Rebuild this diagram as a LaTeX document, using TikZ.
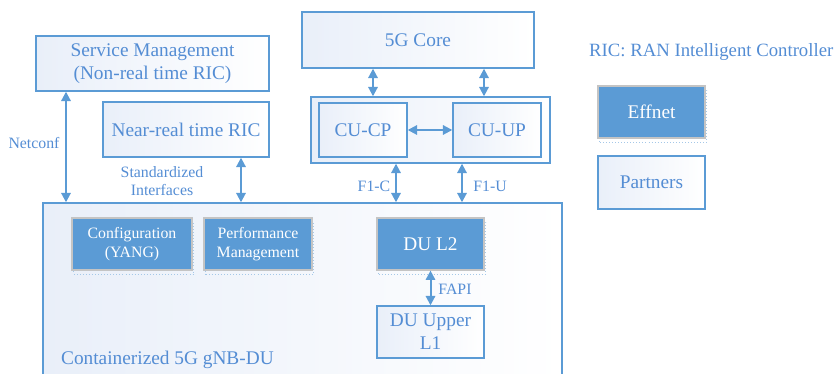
\documentclass[tikz,border=0pt]{standalone}
\usepackage{fontspec}
\setmainfont{Liberation Serif}
\usetikzlibrary{positioning,arrows.meta}
\definecolor{ricBlue}{RGB}{91,155,213}
\definecolor{ricText}{RGB}{84,141,212}
\definecolor{ricFill}{RGB}{233,239,249}
\definecolor{ricGray}{RGB}{196,196,196}

\begin{document}
\begin{tikzpicture}[x=0.03cm,y=-0.03cm,
    lightbox/.style={draw=ricBlue,line width=1.2pt,left color=ricFill,right color=white,
                     text=ricText,font=\fontsize{16.5}{19.5}\selectfont,align=center,inner sep=0pt},
    darkbox/.style={draw=ricGray,line width=1pt,fill=ricBlue,text=white,
                    font=\fontsize{16.5}{19.5}\selectfont,align=center,inner sep=0pt,
                    preaction={draw=ricBlue!55,dotted,line width=0.6pt,
                               transform canvas={shift={(1.5pt,-3.5pt)}}}},
    small/.style={font=\fontsize{13.5}{16}\selectfont},
    link/.style={draw=ricBlue,line width=1.7pt,
                 {Triangle[length=8pt,width=8pt]}-{Triangle[length=8pt,width=8pt]}},
    tag/.style={text=ricText,font=\fontsize{13.5}{16}\selectfont,align=center}
  ]
  \clip (0,0) rectangle (837,374);

  % management side
  \node[lightbox,minimum width=6.99cm,minimum height=1.65cm] (svc) at (152.5,63.5)
       {Service Management\\(Non-real time RIC)};
  \node[lightbox,minimum width=4.98cm,minimum height=1.65cm] (nrt) at (186,129.5)
       {Near-real time RIC};

  % core and CU
  \node[lightbox,minimum width=6.96cm,minimum height=1.68cm] (core) at (418,40) {5G Core};
  \node[lightbox,minimum width=7.17cm,minimum height=1.98cm] (cu) at (430.5,130) {};
  \node[lightbox,minimum width=2.64cm,minimum height=1.62cm] (cucp) at (363,130) {CU-CP};
  \node[lightbox,minimum width=2.64cm,minimum height=1.62cm] (cuup) at (497,130) {CU-UP};

  % DU container
  \node[lightbox,minimum width=15.57cm,minimum height=5.46cm] (du) at (302.5,294) {};
  \node[tag,font=\fontsize{16.5}{19.5}\selectfont,anchor=west] (dulabel) at (57,360)
       {Containerized 5G gNB-DU};
  \node[darkbox,small,minimum width=3.6cm,minimum height=1.56cm] (conf) at (132,244)
       {Configuration\\(YANG)};
  \node[darkbox,small,minimum width=3.24cm,minimum height=1.56cm] (perf) at (258,244)
       {Performance\\Management};
  \node[darkbox,minimum width=3.21cm,minimum height=1.56cm] (dul2) at (430.5,244) {DU L2};
  \node[lightbox,minimum width=3.21cm,minimum height=1.56cm] (dul1) at (430.5,332)
       {DU Upper\\L1};

  % legend
  \node[tag,font=\fontsize{16}{19}\selectfont,anchor=west] (legend) at (585,52)
       {RIC: RAN Intelligent Controller};
  \node[darkbox,minimum width=3.21cm,minimum height=1.56cm] (effnet) at (651.5,112) {Effnet};
  \node[lightbox,minimum width=3.21cm,minimum height=1.59cm] (partners) at (651.5,182.5) {Partners};

  % interfaces
  \coordinate (netx) at (66,0);
  \coordinate (stdx) at (241,0);
  \coordinate (cpx) at (373,0);
  \coordinate (upx) at (484,0);
  \coordinate (f1cx) at (396,0);
  \coordinate (f1ux) at (462,0);

  \draw[link] (svc.south -| netx) -- (du.north -| netx);
  \draw[link] (nrt.south -| stdx) -- (du.north -| stdx);
  \draw[link] (core.south -| cpx) -- (cu.north -| cpx);
  \draw[link] (core.south -| upx) -- (cu.north -| upx);
  \draw[link] (cucp.east) -- (cuup.west);
  \draw[link] (cu.south -| f1cx) -- (du.north -| f1cx);
  \draw[link] (cu.south -| f1ux) -- (du.north -| f1ux);
  \draw[link] (dul2.south) -- (dul1.north);

  \node[tag] (netconf) at (34,143) {Netconf};
  \node[tag] (stdif) at (162,181) {Standardized\\Interfaces};
  \node[tag] (f1c) at (374,186) {F1-C};
  \node[tag] (f1u) at (490,186) {F1-U};
  \node[tag] (fapi) at (455,289) {FAPI};
\end{tikzpicture}
\end{document}
